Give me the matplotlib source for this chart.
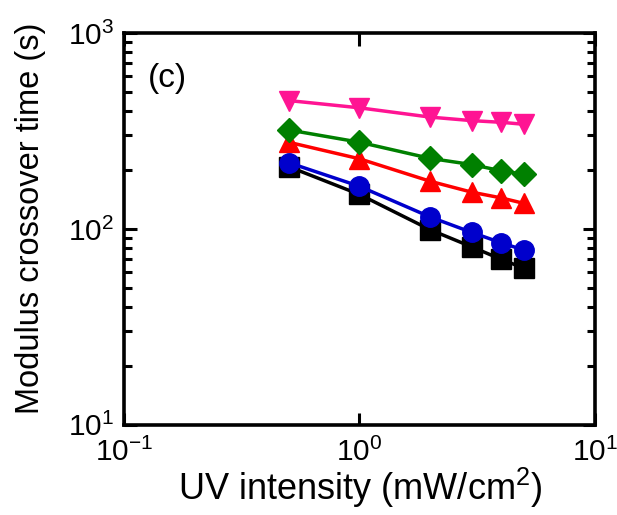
import matplotlib
matplotlib.use("Agg")
import matplotlib.pyplot as plt
from matplotlib.ticker import LogLocator, NullLocator, LogFormatterSciNotation, FixedLocator

plt.rcParams['font.family'] = ['Liberation Sans', 'DejaVu Sans']
plt.rcParams['mathtext.fontset'] = 'custom'
plt.rcParams['mathtext.rm'] = 'Liberation Sans'
plt.rcParams['mathtext.it'] = 'Liberation Sans'
plt.rcParams['mathtext.default'] = 'regular'

intensity = [0.5, 1, 2, 3, 4, 5]
series_black = [208, 150, 99, 81, 70, 63]
series_black_err = [10, 8, 6, 5, 4, 4]
series_blue = [218, 165, 115, 96, 85, 78]
series_red = [277, 228, 175, 154, 144, 135]
series_green = [320, 277, 229, 213, 198, 190]
series_magenta = [452, 415, 372, 357, 350, 342]

fig = plt.figure(figsize=(6.17, 5.15), dpi=100)
ax = fig.add_axes([0.201, 0.175, 0.763, 0.761])

lw = 2.5
ax.errorbar(intensity, series_black, yerr=series_black_err, fmt='none',
            ecolor='#808080', elinewidth=1.2, capsize=6, capthick=1.2, zorder=2)
ax.plot(intensity, series_black, '-s', color='black', lw=lw, ms=14, zorder=3)
ax.plot(intensity, series_blue, '-o', color='#0000cc', lw=lw, ms=14, zorder=4)
ax.plot(intensity, series_red, '-^', color='#ff0000', lw=lw, ms=14, zorder=3)
ax.plot(intensity, series_green, '-D', color='#008000', lw=lw, ms=12, zorder=3)
ax.plot(intensity, series_magenta, '-v', color='#ff1493', lw=lw, ms=14, zorder=3)

ax.set_xscale('log')
ax.set_yscale('log')
ax.set_xlim(0.1, 10)
ax.set_ylim(10, 1000)

ax.xaxis.set_major_locator(FixedLocator([0.1, 1, 10]))
ax.xaxis.set_minor_locator(NullLocator())
ax.xaxis.set_major_formatter(LogFormatterSciNotation())
ax.yaxis.set_major_locator(LogLocator(base=10))
ax.yaxis.set_minor_locator(LogLocator(base=10, subs=range(2, 10)))
ax.yaxis.set_major_formatter(LogFormatterSciNotation())

for s in ax.spines.values():
    s.set_linewidth(2.6)

ax.tick_params(which='both', direction='in', top=True, right=True, width=2.2)
ax.tick_params(which='major', length=9, labelsize=21.5)
ax.tick_params(axis='x', which='major', pad=9)
ax.tick_params(axis='y', which='major', pad=7)
ax.tick_params(which='minor', length=5.5)

ax.set_xlabel('UV intensity (mW/cm$^2$)', fontsize=26)
ax.set_ylabel('Modulus crossover time (s)', fontsize=23.5)
ax.xaxis.set_label_coords(0.502, -0.105)
ax.yaxis.set_label_coords(-0.165, 0.528)
ax.text(0.051, 0.883, '(c)', transform=ax.transAxes, fontsize=24, ha='left', va='center')

fig.savefig('out.png', dpi=100)
